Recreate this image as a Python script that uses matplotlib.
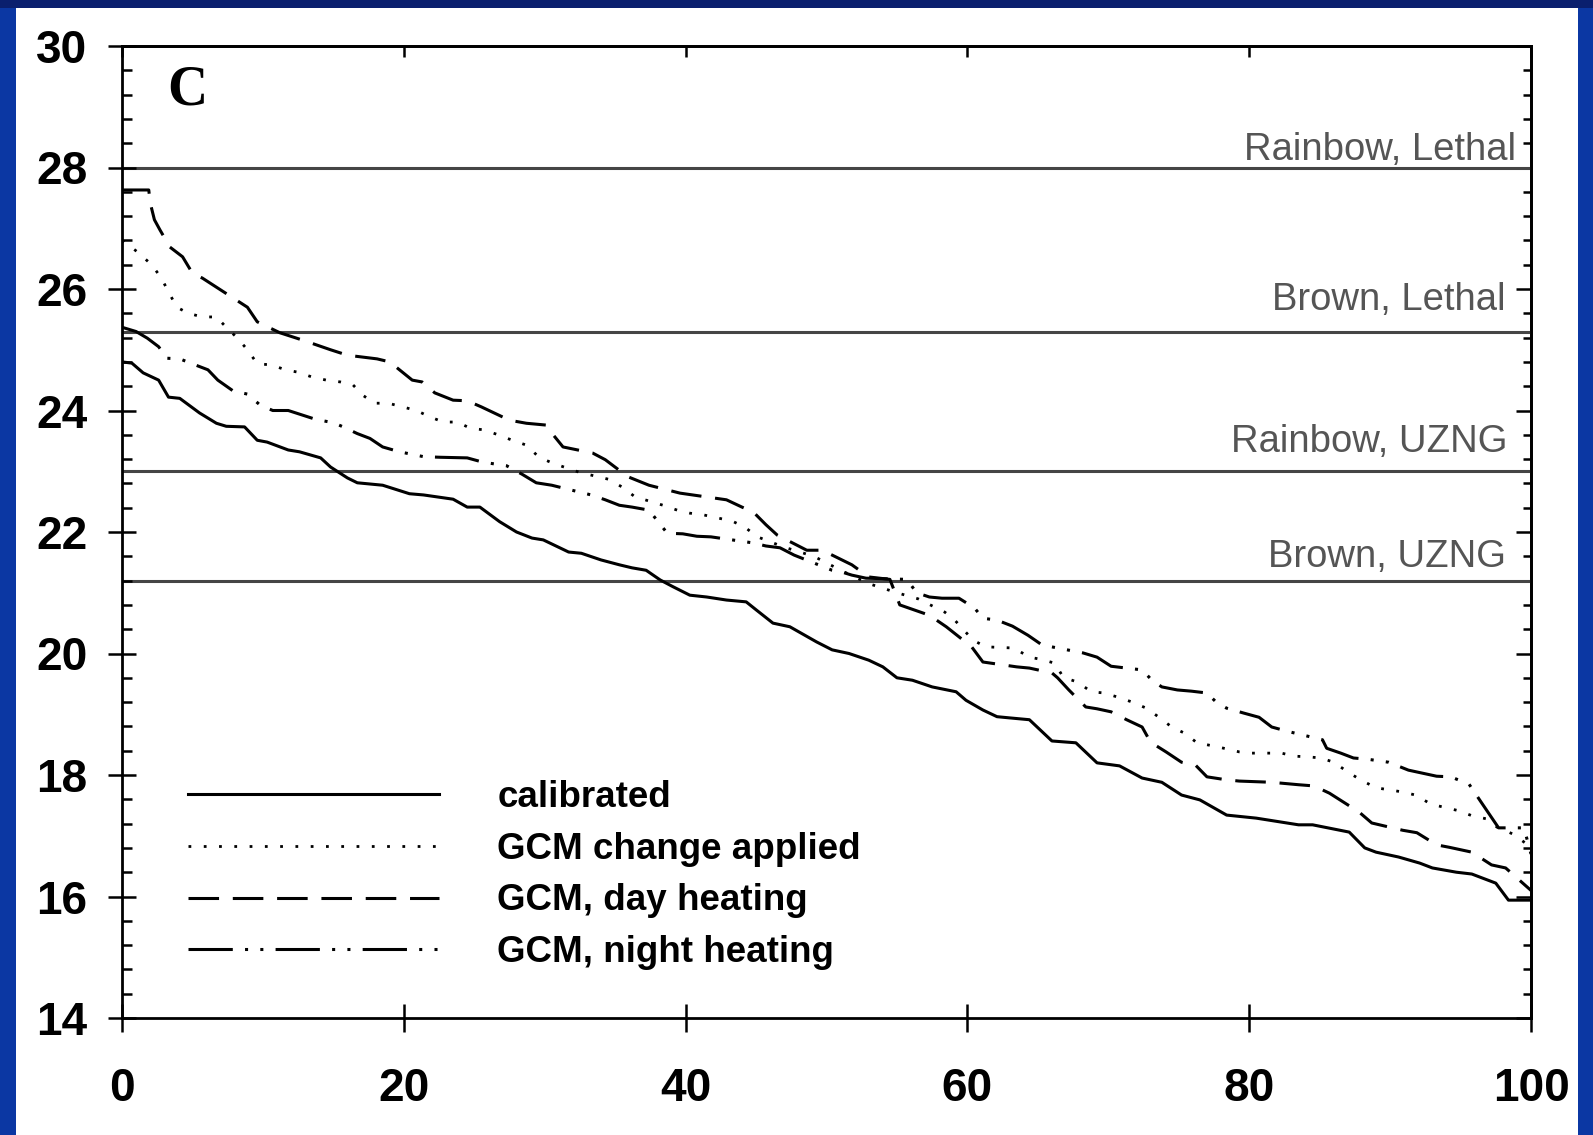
import matplotlib.pyplot as plt
from matplotlib.patches import Rectangle
from matplotlib.ticker import MultipleLocator, NullFormatter

plt.rcParams['font.family'] = ['Liberation Sans', 'DejaVu Sans']

# exceedance curves, stream temperature (deg C) vs percent of time
pct_cal = [0, 0.7, 1.5, 2.6, 3.3, 4.1, 5.5, 6.7, 7.4, 8.7, 9.6, 10.3, 11.8, 12.6, 14.1, 14.8,
           16.0, 16.7, 18.5, 20.4, 21.4, 23.5, 24.5, 25.4, 26.8, 28.0, 29.1, 29.9, 31.7, 32.6,
           34.0, 35.3, 36.2, 37.2, 38.2, 39.1, 40.3, 41.5, 42.9, 44.3, 45.0, 46.2, 47.4, 49.3,
           50.4, 51.6, 53.0, 54.0, 55.0, 56.1, 57.5, 59.2, 59.9, 61.1, 62.1, 63.0, 64.4, 66.0,
           67.7, 69.2, 70.8, 72.4, 73.8, 75.2, 76.5, 78.4, 80.5, 83.5, 84.5, 87.1, 88.2, 89.0,
           90.6, 92.1, 93.0, 94.7, 95.8, 97.5, 98.4, 100]
calibrated = [24.8, 24.78, 24.62, 24.5, 24.22, 24.2, 23.96, 23.79, 23.74, 23.73, 23.51, 23.48,
              23.35, 23.32, 23.22, 23.07, 22.89, 22.81, 22.77, 22.63, 22.61, 22.54, 22.41, 22.41,
              22.17, 22.0, 21.9, 21.87, 21.67, 21.65, 21.54, 21.46, 21.41, 21.37, 21.21, 21.1,
              20.96, 20.93, 20.88, 20.85, 20.72, 20.5, 20.44, 20.19, 20.06, 20.0, 19.89, 19.78,
              19.6, 19.56, 19.45, 19.37, 19.23, 19.07, 18.96, 18.94, 18.91, 18.56, 18.53, 18.2,
              18.15, 17.95, 17.88, 17.67, 17.59, 17.34, 17.29, 17.18, 17.18, 17.06, 16.8, 16.73,
              16.65, 16.55, 16.47, 16.4, 16.37, 16.22, 15.94, 15.94]

pct_chg = [0, 1.1, 2.1, 2.8, 3.3, 3.9, 4.7, 5.7, 6.7, 7.4, 8.2, 8.9, 9.6, 10.6, 11.6, 12.5, 13.5,
           14.5, 15.5, 16.4, 17.1, 17.9, 18.9, 19.9, 20.9, 21.8, 22.8, 23.8, 24.7, 25.7, 26.7,
           27.7, 28.7, 29.6, 30.6, 32.5, 34.5, 35.5, 36.4, 38.4, 39.4, 40.3, 41.3, 42.3, 43.3,
           44.2, 45.1, 47.0, 49.1, 51.1, 53.0, 55.0, 56.5, 58.4, 59.1, 60.4, 61.3, 63.3, 64.4,
           65.3, 66.2, 66.8, 67.8, 68.8, 69.7, 70.7, 71.7, 72.7, 73.6, 74.5, 75.4, 76.3, 77.4,
           78.4, 79.3, 80.2, 82.3, 83.2, 84.1, 85.1, 86.0, 87.0, 87.9, 89.0, 90.9, 91.8, 92.9,
           94.9, 95.8, 96.8, 97.6, 98.7, 99.6, 100]
gcm_change = [26.8, 26.61, 26.4, 26.18, 25.95, 25.7, 25.6, 25.54, 25.54, 25.37, 25.19, 25.0,
              24.77, 24.75, 24.67, 24.63, 24.55, 24.5, 24.47, 24.42, 24.25, 24.12, 24.12, 24.06,
              24.0, 23.9, 23.81, 23.81, 23.71, 23.68, 23.6, 23.51, 23.43, 23.23, 23.13, 22.98,
              22.87, 22.74, 22.58, 22.44, 22.36, 22.31, 22.28, 22.23, 22.18, 22.08, 21.92, 21.75,
              21.6, 21.36, 21.15, 21.0, 20.9, 20.68, 20.55, 20.22, 20.11, 20.09, 19.94, 19.9,
              19.84, 19.61, 19.53, 19.37, 19.35, 19.28, 19.2, 19.1, 18.95, 18.79, 18.69, 18.53,
              18.48, 18.43, 18.38, 18.36, 18.36, 18.31, 18.3, 18.28, 18.21, 18.05, 17.92, 17.79,
              17.72, 17.67, 17.52, 17.41, 17.33, 17.28, 17.14, 17.03, 16.88, 16.85]

pct_day = [0, 1.9, 2.0, 2.3, 2.7, 3.4, 4.3, 5.0, 5.7, 6.7, 8.9, 9.6, 11.2, 12.8, 14.8, 16.0,
           18.1, 19.0, 20.6, 21.3, 22.2, 23.5, 24.5, 25.5, 27.5, 28.7, 30.1, 30.6, 31.3, 33.4,
           34.3, 35.9, 37.4, 39.6, 40.8, 42.9, 44.0, 44.8, 45.7, 46.5, 48.6, 49.7, 51.8, 53.0,
           54.5, 55.2, 57.3, 58.5, 60.3, 61.1, 63.5, 64.4, 66.0, 66.4, 67.2, 68.4, 69.2, 70.2,
           71.3, 72.4, 73.0, 74.1, 75.2, 76.2, 77.0, 78.4, 79.3, 81.6, 83.5, 84.6, 85.7, 87.8,
           88.7, 90.9, 91.9, 93.3, 94.2, 95.8, 97.2, 98.2, 100]
gcm_day = [27.63, 27.63, 27.42, 27.14, 26.97, 26.69, 26.53, 26.26, 26.18, 26.03, 25.70, 25.46,
           25.28, 25.16, 25.0, 24.91, 24.85, 24.8, 24.5, 24.47, 24.29, 24.17, 24.16, 24.06,
           23.84, 23.79, 23.76, 23.6, 23.4, 23.3, 23.19, 22.91, 22.77, 22.64, 22.6, 22.53,
           22.41, 22.33, 22.12, 21.95, 21.7, 21.7, 21.46, 21.26, 21.22, 20.8, 20.63, 20.44,
           20.11, 19.86, 19.78, 19.76, 19.68, 19.6, 19.4, 19.12, 19.09, 19.04, 18.91, 18.79,
           18.54, 18.38, 18.21, 18.16, 17.97, 17.92, 17.9, 17.88, 17.84, 17.82, 17.7, 17.39,
           17.21, 17.09, 17.05, 16.85, 16.81, 16.73, 16.52, 16.47, 16.1]

pct_night = [0, 1.0, 1.8, 2.6, 3.2, 4.1, 5.2, 6.1, 6.8, 7.9, 8.9, 9.8, 10.7, 11.8, 12.6, 13.8,
             15.0, 15.7, 16.7, 17.6, 18.5, 19.7, 21.4, 22.6, 24.5, 25.6, 27.3, 28.4, 29.4, 30.5,
             33.3, 34.3, 35.3, 36.2, 37.4, 38.7, 39.8, 40.8, 41.8, 44.8, 45.7, 46.7, 47.7, 50.4,
             51.1, 51.8, 52.8, 55.7, 56.4, 57.3, 58.2, 59.4, 60.5, 61.1, 62.1, 63.2, 64.3, 65.3,
             68.2, 69.2, 70.2, 71.3, 72.4, 73.1, 73.8, 74.9, 75.9, 77.0, 77.7, 78.4, 79.6, 80.7,
             81.6, 82.7, 85.2, 85.5, 86.5, 87.4, 88.4, 89.9, 91.3, 92.3, 93.3, 94.3, 95.6, 96.5,
             97.7, 99.5, 100]
gcm_night = [25.37, 25.3, 25.19, 25.05, 24.86, 24.85, 24.75, 24.67, 24.5, 24.32, 24.27, 24.09,
             24.0, 24.0, 23.94, 23.85, 23.8, 23.73, 23.62, 23.54, 23.4, 23.32, 23.24, 23.23,
             23.22, 23.15, 23.09, 22.95, 22.81, 22.77, 22.61, 22.53, 22.44, 22.41, 22.36, 21.98,
             21.97, 21.93, 21.92, 21.82, 21.77, 21.74, 21.62, 21.37, 21.34, 21.29, 21.24, 21.22,
             21.0, 20.93, 20.91, 20.91, 20.75, 20.58, 20.55, 20.45, 20.3, 20.14, 20.01, 19.94,
             19.79, 19.76, 19.73, 19.56, 19.45, 19.4, 19.38, 19.35, 19.19, 19.1, 19.02, 18.95,
             18.79, 18.72, 18.58, 18.44, 18.36, 18.28, 18.26, 18.21, 18.08, 18.03, 17.98, 17.97,
             17.85, 17.54, 17.13, 17.13, 16.7]

# temperature thresholds for trout
threshold_names = ['Rainbow, Lethal', 'Brown, Lethal', 'Rainbow, UZNG', 'Brown, UZNG']
threshold_vals = [28.0, 25.3, 23.0, 21.2]
label_x = [98.9, 98.2, 98.3, 98.2]
label_y = [28.12, 25.65, 23.32, 21.42]

fig = plt.figure(figsize=(15.93, 11.35), dpi=100, facecolor='#0b37a3')
# white page inside the blue frame, kept behind the axes
fig.patches.append(Rectangle((0, 1 - 8 / 1135), 1, 8 / 1135, transform=fig.transFigure,
                             facecolor='#0a1f6e', edgecolor='none', zorder=-10))
fig.patches.append(Rectangle((16 / 1593, 0), (1578 - 16) / 1593, (1135 - 8) / 1135,
                             transform=fig.transFigure, facecolor='white', edgecolor='none',
                             zorder=-10))

ax = fig.add_axes([122 / 1593, 1 - 1018 / 1135, 1409 / 1593, 972 / 1135])
ax.set_xlim(0, 100)
ax.set_ylim(14, 30)

for val in threshold_vals:
    ax.axhline(val, color='#454545', lw=2.2, zorder=1)
for name, tx, ty in zip(threshold_names, label_x, label_y):
    ax.text(tx, ty, name, ha='right', va='baseline', fontsize=27.5, color='#555555')

lw = 2.2
ax.plot(pct_cal, calibrated, color='black', lw=lw, label='calibrated')
ax.plot(pct_chg, gcm_change, color='black', lw=2.0, linestyle=(0, (1, 4.5)),
        label='GCM change applied')
ax.plot(pct_day, gcm_day, color='black', lw=lw, linestyle=(0, (10, 4.5)),
        label='GCM, day heating')
ax.plot(pct_night, gcm_night, color='black', lw=lw, linestyle=(0, (14.5, 4, 1, 4, 1, 4)),
        label='GCM, night heating')

ax.text(3.2, 29.03, 'C', fontsize=40, fontweight='bold', family='Liberation Serif',
        ha='left', va='baseline')

ax.legend(loc='lower left', bbox_to_anchor=(0.047, 0.049), frameon=False,
          prop={'size': 26.5, 'weight': 'bold'},
          handlelength=6.8, handletextpad=1.6, labelspacing=0.46, borderpad=0,
          borderaxespad=0)

ax.xaxis.set_major_locator(MultipleLocator(20))
ax.yaxis.set_major_locator(MultipleLocator(2))
ax.yaxis.set_minor_locator(MultipleLocator(0.4))
ax.tick_params(axis='both', which='major', direction='inout', length=20, width=1.8,
               labelsize=33, colors='black')
ax.tick_params(axis='y', which='minor', direction='in', length=7, width=1.8)
ax.tick_params(axis='x', which='major', pad=25)
ax.tick_params(axis='y', which='major', pad=15)
for lab in ax.get_xticklabels() + ax.get_yticklabels():
    lab.set_fontweight('bold')
for sp in ax.spines.values():
    sp.set_linewidth(2)

# inward ticks on the right and top frame
right = ax.secondary_yaxis('right')
right.yaxis.set_major_locator(MultipleLocator(2))
right.yaxis.set_minor_locator(MultipleLocator(0.4))
right.yaxis.set_major_formatter(NullFormatter())
right.tick_params(which='major', direction='in', length=11, width=1.8)
right.tick_params(which='minor', direction='in', length=6, width=1.8)
right.spines['right'].set_linewidth(2)

top = ax.secondary_xaxis('top')
top.xaxis.set_major_locator(MultipleLocator(20))
top.xaxis.set_major_formatter(NullFormatter())
top.tick_params(which='major', direction='in', length=8, width=1.8)
top.spines['top'].set_linewidth(2)

fig.savefig('out.png', dpi=100, facecolor=fig.get_facecolor())
